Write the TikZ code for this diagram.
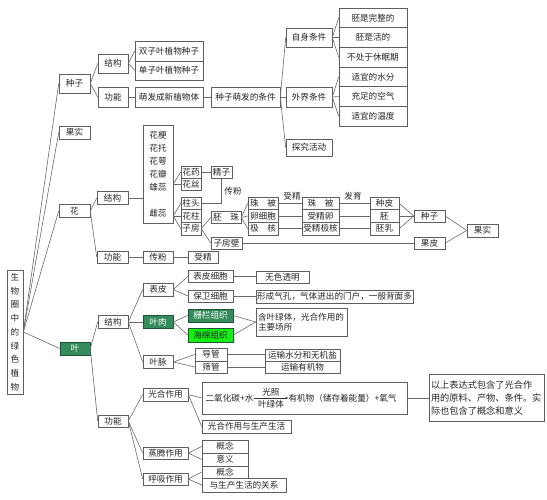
\documentclass[tikz,border=0pt]{standalone}
\usepackage{fontspec}
\setmainfont{Noto Sans CJK SC}
\usetikzlibrary{arrows.meta}
\definecolor{dg}{RGB}{52,140,92}
\definecolor{lgc}{RGB}{20,240,20}
\definecolor{bdc}{RGB}{95,95,95}
\definecolor{lnc}{RGB}{105,105,105}
\begin{document}
\begin{tikzpicture}[x=1pt,y=-1pt,
  bx/.style={draw=bdc, fill=white, inner sep=0pt, line width=0.6pt, font=\fontsize{8.6}{10}\selectfont, text=black!85},
  sz/.style 2 args={minimum width=#1pt, minimum height=#2pt},
  dk/.style={bx, fill=dg, draw=dg!60!black, text=white},
  lnk/.style={draw=lnc, line width=0.6pt},
  lt/.style={font=\fontsize{8.6}{10}\selectfont, inner sep=0pt, text=black!85}
]
\useasboundingbox (0,0) rectangle (547,500);

% root
\node[bx, sz={16}{124}, align=center, font=\fontsize{8.6}{13.75}\selectfont] (root) at (15,332) {生\\物\\圈\\中\\的\\绿\\色\\植\\物};

% ---------- seed ----------
\node[bx, sz={31}{19}] (zhongzi) at (74.5,83.5) {种子};
\node[bx, sz={30}{19}] (jg1) at (113,63.5) {结构};
\node[bx, sz={30}{20}] (gn1) at (113,97) {功能};
\node[bx, sz={68}{20}] (szy) at (169,51) {双子叶植物种子};
\node[bx, sz={68}{19}] (dzy) at (169,70.5) {单子叶植物种子};
\node[bx, sz={68}{20}] (mf) at (169,97) {萌发成新植物体};
\node[bx, sz={69}{20}] (tj) at (245.5,97) {种子萌发的条件};
\node[bx, sz={46}{19}] (zs) at (309,37.5) {自身条件};
\node[bx, sz={46}{20}] (wj) at (309,97) {外界条件};
\node[bx, sz={46}{17}] (tz) at (309,147.5) {探究活动};
\node[bx, sz={68}{19.7}] (c1) at (373,17.8) {胚是完整的};
\node[bx, sz={68}{19.7}] (c2) at (373,37.5) {胚是活的};
\node[bx, sz={68}{19.7}] (c3) at (373,57.2) {不处于休眠期};
\node[bx, sz={68}{19.7}] (c4) at (373,76.8) {适宜的水分};
\node[bx, sz={68}{19.7}] (c5) at (373,96.5) {充足的空气};
\node[bx, sz={68}{19.7}] (c6) at (373,116.2) {适宜的温度};

% ---------- fruit ----------
\node[bx, sz={31}{13}] (gs) at (74.5,132.5) {果实};

% ---------- flower ----------
\node[bx, sz={31}{13}] (hua) at (74.5,211) {花};
\node[bx, sz={31}{13}] (jg2) at (112.5,198) {结构};
\node[bx, sz={31}{12}] (gn2) at (112.5,257) {功能};
\node[bx, sz={30}{98}] (hbox) at (158,174) {};
\node[lt] (hg) at (158,135) {花梗};
\node[lt] (ht) at (158,148) {花托};
\node[lt] (he) at (158,161) {花萼};
\node[lt] (hb) at (158,174) {花瓣};
\node[lt] (xr) at (158,187.5) {雄蕊};
\node[lt] (cr) at (158,213) {雌蕊};
\node[bx, sz={20}{12}] (huayao) at (191,172) {花药};
\node[bx, sz={20}{12}] (huasi) at (191,184) {花丝};
\node[bx, sz={21}{12}] (jingzi) at (221.5,172) {精子};
\node[bx, sz={20}{12.7}] (zhutou) at (191,203.3) {柱头};
\node[bx, sz={20}{12.7}] (huazhu) at (191,216) {花柱};
\node[bx, sz={20}{12.7}] (zifang) at (191,228.7) {子房};
\node[lt] (cflab) at (233,191) {传粉};
\node[bx, sz={30}{12}] (peizhu) at (226,217.5) {胚　珠};
\node[bx, sz={31}{12}] (zfb) at (226.5,243) {子房壁};
\node[bx, sz={30}{12.7}] (zb1) at (263,203.3) {珠　被};
\node[bx, sz={30}{12.7}] (lxb) at (263,216) {卵细胞};
\node[bx, sz={30}{12.7}] (jh1) at (263,228.7) {极　核};
\node[bx, sz={37}{12.7}] (zb2) at (320.5,203.3) {珠　被};
\node[bx, sz={37}{12.7}] (sjl) at (320.5,216) {受精卵};
\node[bx, sz={37}{12.7}] (sjjh) at (320.5,228.7) {受精极核};
\node[bx, sz={29}{12.7}] (zp) at (384.5,203.3) {种皮};
\node[bx, sz={29}{12.7}] (pei) at (384.5,216) {胚};
\node[bx, sz={29}{12.7}] (pr) at (384.5,228.7) {胚乳};
\node[bx, sz={31}{12}] (zhongzi2) at (429.5,216) {种子};
\node[bx, sz={31}{12}] (guopi) at (429.5,243) {果皮};
\node[bx, sz={31}{13}] (guoshi2) at (482.5,230.5) {果实};
\node[lt] (sjlab) at (292,196) {受精};
\node[lt] (fylab) at (353,196) {发育};
\node[bx, sz={30}{12}] (cf) at (158,257) {传粉};
\node[bx, sz={30}{12}] (sj) at (203,257) {受精};

% ---------- leaf ----------
\node[dk, sz={30}{13}] (ye) at (75,348.5) {叶};
\node[bx, sz={30}{13}] (jg3) at (113,322) {结构};
\node[bx, sz={30}{13}] (biaopi) at (158,289.5) {表皮};
\node[dk, sz={30}{13}] (yerou) at (158,322) {叶肉};
\node[bx, sz={30}{13}] (yemai) at (158,362) {叶脉};
\node[bx, sz={45}{12}] (bpxb) at (210.5,276.5) {表皮细胞};
\node[bx, sz={45}{12}] (bwxb) at (210.5,296) {保卫细胞};
\node[dk, sz={45}{13}] (zl) at (210.5,315.5) {栅栏组织};
\node[bx, sz={45}{14}, fill=lgc, draw=dg!60!black] (hm) at (210.5,335) {海绵组织};
\node[bx, sz={32}{13}] (dg) at (211,354.5) {导管};
\node[bx, sz={32}{12}] (sg) at (211,367) {筛管};
\node[bx, sz={53}{12}] (wsm) at (282.5,277) {无色透明};
\node[bx, sz={157}{13}] (qk) at (334.5,296.5) {形成气孔，气体进出的门户，一般背面多};
\node[bx, sz={91}{28}, align=left, text width=87pt, inner xsep=2pt] (hyl) at (301.5,322) {含叶绿体，光合作用的\\主要场所};
\node[bx, sz={75}{12}] (ysw) at (302.5,355) {运输水分和无机盐};
\node[bx, sz={75}{12}] (ysy) at (302.5,367) {运输有机物};

\node[bx, sz={30}{12}] (gn3) at (113,421) {功能};
\node[bx, sz={45}{13}] (gh) at (165.5,394.5) {光合作用};
\node[bx, sz={45}{12}] (zt) at (165.5,453) {蒸腾作用};
\node[bx, sz={45}{12}] (hx) at (165.5,479) {呼吸作用};
\node[bx, sz={205}{32}] (eq) at (304.5,398) {};
\node[lt] (eqL) at (229.5,398) {二氧化碳+水};
\node[lt] (eqR) at (342.5,398) {有机物（储存着能量）+氧气};
\draw[lnk, draw=black!80, -{Stealth[length=3pt,width=2.5pt]}] (eqL.east) -- (eqR.west)
  node[midway, above=1.5pt, lt] {光照}
  node[midway, below=1.5pt, lt] {叶绿体};
\node[bx, sz={89}{13}] (ghsc) at (246.5,426.5) {光合作用与生产生活};
\node[bx, sz={46}{13}] (gna) at (225,446.5) {概念};
\node[bx, sz={46}{13}] (yy) at (225,459.5) {意义};
\node[bx, sz={46}{12}] (gnb) at (225,472) {概念};
\node[bx, sz={84}{14}] (gx) at (244,485) {与生产生活的关系};
\node[bx, sz={115}{47}, align=left, text width=111pt, inner xsep=2pt, font=\fontsize{9.2}{13}\selectfont] (note) at (486.5,397.5) {以上表达式包含了光合作\\用的原料、产物、条件。实\\际也包含了概念和意义};

% ---------- connectors ----------
\draw[lnk] (root.east) -- (zhongzi.west);
\draw[lnk] (root.east) -- (gs.west);
\draw[lnk] (root.east) -- (hua.west);
\draw[lnk] (root.east) -- (ye.west);

\draw[lnk] (zhongzi.east) -- (jg1.west);
\draw[lnk] (zhongzi.east) -- (gn1.west);
\draw[lnk] (jg1.east) -- (szy.west);
\draw[lnk] (jg1.east) -- (dzy.west);
\draw[lnk] (gn1) -- (mf);
\draw[lnk] (mf) -- (tj);
\draw[lnk] (tj.east) -- (zs.west);
\draw[lnk] (tj.east) -- (wj.west);
\draw[lnk] (tj.east) -- (tz.west);
\foreach \c in {c1,c2,c3} \draw[lnk] (zs.east) -- (\c.west);
\foreach \c in {c4,c5,c6} \draw[lnk] (wj.east) -- (\c.west);

\draw[lnk] (hua.east) -- (jg2.west);
\draw[lnk] (hua.east) -- (gn2.west);
\draw[lnk] (jg2.east) -- (hbox.west |- jg2.east);
\draw[lnk] (hbox.east |- huasi.west) -- (huayao.west);
\draw[lnk] (hbox.east |- huasi.west) -- (huasi.west);
\draw[lnk] (huayao) -- (jingzi);
\draw[lnk] (jingzi.south) -- (jingzi.south |- zhutou.east) -- (zhutou.east);
\draw[lnk] (hbox.east |- huazhu.west) -- (zhutou.west);
\draw[lnk] (hbox.east |- huazhu.west) -- (huazhu.west);
\draw[lnk] (hbox.east |- huazhu.west) -- (zifang.west);
\draw[lnk] (zifang.east) -- (peizhu.west);
\draw[lnk] (zifang.east) -- (zfb.west);
\draw[lnk] (peizhu.east) -- (zb1.west);
\draw[lnk] (peizhu.east) -- (lxb.west);
\draw[lnk] (peizhu.east) -- (jh1.west);
\draw[lnk] (zb1) -- (zb2);
\draw[lnk] (lxb) -- (sjl);
\draw[lnk] (jh1) -- (sjjh);
\draw[lnk] (zb2) -- (zp);
\draw[lnk] (sjl) -- (pei);
\draw[lnk] (sjjh) -- (pr);
\draw[lnk] (zp.east) -- (zhongzi2.west);
\draw[lnk] (pei.east) -- (zhongzi2.west);
\draw[lnk] (pr.east) -- (zhongzi2.west);
\draw[lnk] (zfb.east) -- (guopi.west);
\draw[lnk] (zhongzi2.east) -- (guoshi2.west);
\draw[lnk] (guopi.east) -- (guoshi2.west);
\draw[lnk] (gn2) -- (cf);
\draw[lnk] (cf) -- (sj);

\draw[lnk] (ye.east) -- (jg3.west);
\draw[lnk] (ye.east) -- (gn3.west);
\draw[lnk] (jg3.east) -- (biaopi.west);
\draw[lnk] (jg3.east) -- (yerou.west);
\draw[lnk] (jg3.east) -- (yemai.west);
\draw[lnk] (biaopi.east) -- (bpxb.west);
\draw[lnk] (biaopi.east) -- (bwxb.west);
\draw[lnk] (yerou.east) -- (zl.west);
\draw[lnk] (yerou.east) -- (hm.west);
\draw[lnk] (yemai.east) -- (dg.west);
\draw[lnk] (yemai.east) -- (sg.west);
\draw[lnk] (bpxb.east) -- (wsm.west |- bpxb.east);
\draw[lnk] (bwxb.east) -- (qk.west |- bwxb.east);
\draw[lnk] (zl.east) -- (hyl.west);
\draw[lnk] (hm.east) -- (hyl.west);
\draw[lnk] (dg.east) -- (ysw.west |- dg.east);
\draw[lnk] (sg.east) -- (ysy.west |- sg.east);

\draw[lnk] (gn3.east) -- (gh.west);
\draw[lnk] (gn3.east) -- (zt.west);
\draw[lnk] (gn3.east) -- (hx.west);
\draw[lnk] (gh.east) -- (eq.west);
\draw[lnk] (gh.east) -- (ghsc.west);
\draw[lnk] (zt.east) -- (gna.west);
\draw[lnk] (zt.east) -- (yy.west);
\draw[lnk] (hx.east) -- (gnb.west);
\draw[lnk] (hx.east) -- (gx.west);
\draw[lnk] (eq.east) -- (note.west |- eq.east);
\end{tikzpicture}
\end{document}
